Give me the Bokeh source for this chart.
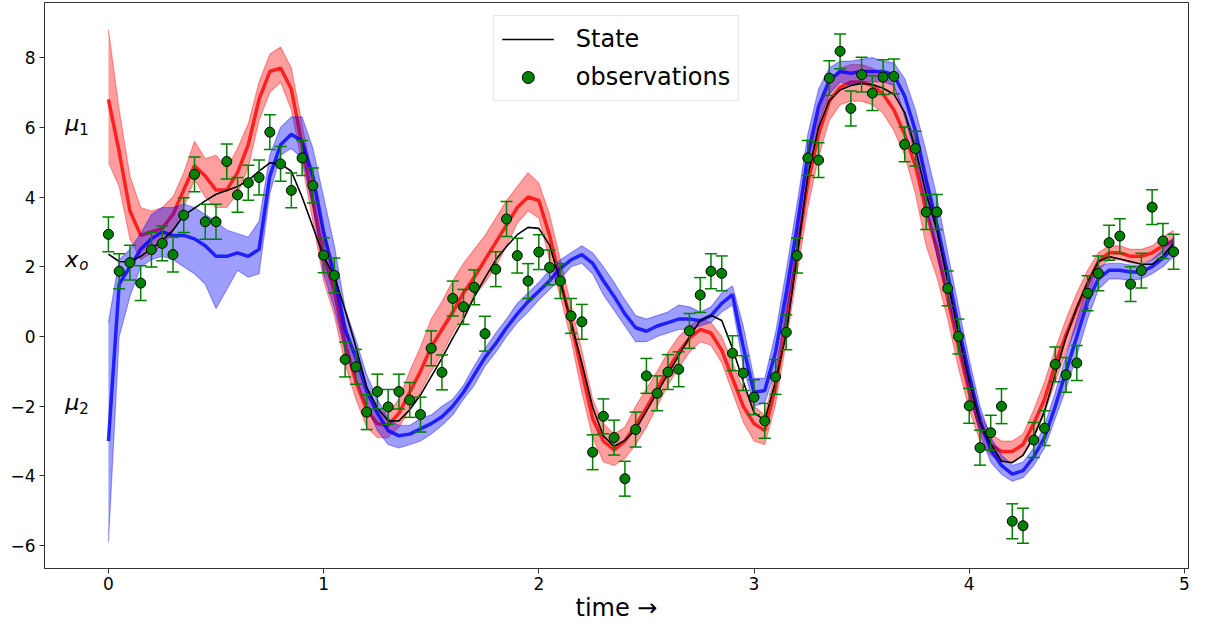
from bokeh.plotting import figure
from bokeh.models import (Range1d, FixedTicker, Legend, LegendItem, ColumnDataSource)
from bokeh.core.properties import value
from bokeh.embed import file_html
from bokeh.resources import INLINE

# ---------------- data ----------------
time = [0.00, 0.05, 0.10, 0.15, 0.20, 0.25, 0.30, 0.35, 0.40, 0.45,
        0.50, 0.55, 0.60, 0.65, 0.70, 0.75, 0.80, 0.85, 0.90, 0.95,
        1.00, 1.05, 1.10, 1.15, 1.20, 1.25, 1.30, 1.35, 1.40, 1.45,
        1.50, 1.55, 1.60, 1.65, 1.70, 1.75, 1.80, 1.85, 1.90, 1.95,
        2.00, 2.05, 2.10, 2.15, 2.20, 2.25, 2.30, 2.35, 2.40, 2.45,
        2.50, 2.55, 2.60, 2.65, 2.70, 2.75, 2.80, 2.85, 2.90, 2.95,
        3.00, 3.05, 3.10, 3.15, 3.20, 3.25, 3.30, 3.35, 3.40, 3.45,
        3.50, 3.55, 3.60, 3.65, 3.70, 3.75, 3.80, 3.85, 3.90, 3.95,
        4.00, 4.05, 4.10, 4.15, 4.20, 4.25, 4.30, 4.35, 4.40, 4.45,
        4.50, 4.55, 4.60, 4.65, 4.70, 4.75, 4.80, 4.85, 4.90, 4.95]

observations = [2.93, 1.87, 2.12, 1.53, 2.49, 2.67, 2.35, 3.48, 4.65, 3.29,
                3.29, 5.02, 4.06, 4.41, 4.56, 5.86, 4.95, 4.19, 5.12, 4.33,
                2.33, 1.75, -0.66, -0.87, -2.17, -1.58, -2.02, -1.58, -1.82, -2.24,
                -0.34, -1.03, 1.09, 0.85, 1.41, 0.08, 1.93, 3.37, 2.32, 1.59,
                2.42, 1.98, 1.59, 0.59, 0.42, -3.32, -2.29, -2.90, -4.08, -2.67,
                -1.13, -1.63, -1.02, -0.94, 0.16, 1.19, 1.87, 1.81, -0.48, -1.05,
                -1.74, -2.42, -1.16, 0.12, 2.32, 5.12, 5.06, 7.41, 8.18, 6.54,
                7.51, 6.98, 7.44, 7.46, 5.51, 5.39, 3.57, 3.57, 1.38, 0.00,
                -1.99, -3.19, -2.76, -2.00, -5.30, -5.43, -2.97, -2.63, -0.80, -1.10,
                -0.76, 1.24, 1.81, 2.69, 2.88, 1.50, 1.89, 3.71, 2.74, 2.43]
obs_error = 0.5

state = [2.36, 2.15, 2.14, 2.30, 2.52, 2.75, 3.05, 3.47, 3.68, 3.89,
         4.08, 4.19, 4.30, 4.48, 4.74, 4.98, 4.95, 4.74, 4.00, 3.15,
         2.30, 1.72, 0.75, -0.30, -1.45, -2.05, -2.42, -2.42, -2.10, -1.68,
         -1.15, -0.62, -0.05, 0.50, 1.14, 1.68, 2.20, 2.58, 2.92, 3.13,
         3.10, 2.62, 1.57, 0.40, -0.76, -2.03, -2.85, -3.15, -2.98, -2.67,
         -2.14, -1.61, -1.08, -0.55, -0.02, 0.46, 0.61, 0.46, -0.34, -1.29,
         -2.19, -2.40, -1.29, 0.08, 2.30, 4.60, 6.00, 6.77, 7.07, 7.20,
         7.26, 7.23, 7.12, 6.95, 6.43, 5.38, 4.10, 3.05, 1.57, 0.08,
         -1.29, -2.46, -3.09, -3.57, -3.62, -3.41, -2.88, -2.14, -1.08, -0.02,
         0.83, 1.57, 2.15, 2.29, 2.22, 2.15, 2.07, 2.07, 2.31, 2.68]

# ensemble started from mu_1 (red): lower edge, centre, upper edge
red_low = [5.0, 4.3, 2.8, 2.2, 2.4, 2.6, 3.0, 3.7, 4.5, 4.0,
           3.7, 3.7, 4.1, 4.85, 6.2, 7.0, 7.3, 6.5, 4.95, 3.3,
           1.6, 0.6, -0.8, -1.8, -2.6, -2.9, -2.9, -2.6, -2.1, -1.6,
           -1.0, -0.5, 0.1, 0.6, 1.15, 1.55, 2.0, 2.6, 3.25, 3.6,
           3.4, 2.2, 1.15, -0.1, -1.6, -2.9, -3.6, -3.7, -3.5, -3.1,
           -2.6, -2.0, -1.4, -0.9, -0.45, -0.15, -0.25, -0.75, -1.6, -2.45,
           -3.0, -3.1, -1.95, -0.15, 1.8, 3.7, 5.15, 6.2, 6.65, 6.75,
           6.75, 6.65, 6.4, 5.9, 5.2, 4.1, 2.6, 1.7, 0.5, -0.9,
           -2.1, -3.0, -3.4, -3.6, -3.6, -3.4, -2.9, -2.2, -1.3, -0.45,
           0.3, 1.15, 1.9, 2.2, 2.2, 2.1, 2.1, 2.2, 2.4, 2.5]
red_mid = [6.8, 5.3, 3.6, 2.9, 3.0, 3.1, 3.5, 4.2, 4.9, 4.6,
           4.2, 4.2, 4.7, 5.5, 6.8, 7.6, 7.7, 7.1, 5.5, 3.9,
           2.3, 1.3, -0.2, -1.3, -2.1, -2.5, -2.55, -2.2, -1.6, -1.0,
           -0.3, 0.2, 0.7, 1.25, 1.7, 2.2, 2.7, 3.2, 3.7, 4.0,
           3.9, 2.9, 1.6, 0.4, -1.0, -2.35, -3.0, -3.25, -3.0, -2.55,
           -2.05, -1.5, -0.95, -0.45, -0.05, 0.2, 0.1, -0.4, -1.2, -2.0,
           -2.5, -2.7, -1.45, 0.4, 2.4, 4.4, 5.8, 6.75, 7.15, 7.3,
           7.3, 7.2, 6.95, 6.5, 5.8, 4.9, 3.6, 2.5, 1.1, -0.3,
           -1.6, -2.6, -3.1, -3.3, -3.3, -3.1, -2.5, -1.8, -0.8, 0.05,
           0.8, 1.5, 2.15, 2.4, 2.4, 2.3, 2.3, 2.4, 2.6, 2.75]
red_high = [8.8, 6.5, 4.6, 3.7, 3.6, 3.7, 4.0, 4.7, 5.6, 5.1,
            5.2, 4.8, 5.4, 6.1, 7.3, 8.1, 8.3, 7.7, 6.1, 4.5,
            3.0, 2.0, 0.4, -0.8, -1.7, -2.1, -2.2, -1.8, -1.0, -0.3,
            0.5, 1.0, 1.6, 2.1, 2.5, 2.9, 3.4, 3.9, 4.3, 4.7,
            4.4, 3.5, 2.2, 0.9, -0.4, -1.8, -2.5, -2.8, -2.6, -2.0,
            -1.5, -1.0, -0.45, 0.0, 0.3, 0.5, 0.4, 0.0, -0.75, -1.5,
            -2.0, -2.25, -1.0, 0.9, 3.0, 5.1, 6.4, 7.3, 7.7, 7.8,
            7.8, 7.7, 7.5, 7.2, 6.4, 5.7, 4.5, 3.3, 1.8, 0.3,
            -1.1, -2.2, -2.8, -3.0, -3.0, -2.8, -2.1, -1.3, -0.35, 0.5,
            1.25, 1.9, 2.4, 2.6, 2.6, 2.5, 2.5, 2.6, 2.85, 3.05]

# ensemble started from mu_2 (blue): lower edge, centre, upper edge
blue_low = [-5.9, 0.0, 1.15, 2.0, 2.2, 2.3, 2.2, 2.0, 1.8, 1.5,
            0.8, 1.35, 1.9, 1.7, 1.8, 4.1, 5.2, 5.4, 5.1, 3.7,
            1.8, 0.8, -0.45, -1.2, -2.0, -2.7, -3.1, -3.2, -3.1, -3.0,
            -2.8, -2.55, -2.25, -1.8, -1.4, -0.85, -0.45, 0.0, 0.4, 0.7,
            1.05, 1.35, 1.65, 2.0, 2.1, 1.8, 1.2, 0.75, 0.3, -0.15,
            -0.15, 0.0, 0.1, 0.2, 0.2, 0.3, 0.4, 0.7, 0.9, -0.85,
            -2.0, -1.9, -1.0, 0.6, 2.5, 4.6, 6.1, 6.95, 7.3, 7.2,
            7.3, 7.3, 7.3, 7.2, 6.3, 5.2, 3.7, 2.3, 1.15, -0.25,
            -1.6, -2.8, -3.6, -3.95, -4.15, -4.05, -3.7, -3.2, -2.35, -1.5,
            -0.55, 0.5, 1.35, 1.65, 1.65, 1.6, 1.65, 1.8, 2.0, 2.3]
blue_mid = [-3.0, 1.5, 2.0, 2.5, 2.8, 3.0, 2.9, 2.9, 2.8, 2.6,
            2.3, 2.3, 2.4, 2.3, 2.5, 4.6, 5.5, 5.8, 5.6, 4.6,
            3.0, 1.7, 0.2, -0.6, -1.55, -2.2, -2.7, -2.85, -2.8, -2.65,
            -2.5, -2.3, -2.0, -1.6, -1.1, -0.6, -0.2, 0.25, 0.65, 1.0,
            1.3, 1.6, 1.95, 2.2, 2.35, 2.1, 1.6, 1.15, 0.65, 0.25,
            0.15, 0.3, 0.4, 0.5, 0.5, 0.45, 0.6, 0.95, 1.2, -0.3,
            -1.6, -1.55, -0.45, 1.25, 3.15, 5.2, 6.6, 7.35, 7.6, 7.55,
            7.6, 7.6, 7.6, 7.5, 6.9, 5.9, 4.5, 3.2, 1.8, 0.3,
            -1.1, -2.4, -3.25, -3.7, -3.95, -3.85, -3.45, -2.9, -2.0, -1.0,
            0.0, 1.0, 1.65, 1.9, 1.9, 1.85, 1.85, 2.0, 2.25, 2.55]
blue_high = [0.4, 2.2, 2.5, 2.95, 3.5, 3.7, 3.7, 3.8, 3.7, 3.5,
             3.3, 3.05, 2.95, 2.85, 3.3, 5.2, 6.0, 6.3, 6.3, 5.4,
             4.0, 2.6, 0.8, -0.1, -1.1, -1.8, -2.35, -2.55, -2.55, -2.35,
             -2.25, -2.0, -1.8, -1.4, -0.85, -0.35, 0.1, 0.5, 0.95, 1.25,
             1.55, 1.9, 2.2, 2.4, 2.6, 2.4, 2.0, 1.55, 1.05, 0.6,
             0.5, 0.6, 0.7, 0.9, 0.85, 0.7, 0.85, 1.25, 1.45, 0.3,
             -1.2, -1.2, 0.1, 1.9, 3.8, 5.8, 7.1, 7.7, 7.9, 7.9,
             7.95, 8.0, 7.9, 7.85, 7.4, 6.5, 5.3, 4.0, 2.4, 0.85,
             -0.65, -2.0, -2.9, -3.4, -3.7, -3.6, -3.2, -2.55, -1.6, -0.55,
             0.5, 1.45, 2.0, 2.1, 2.1, 2.05, 2.05, 2.2, 2.5, 2.85]

x_ticks = [0, 1, 2, 3, 4, 5]
y_ticks = [-6, -4, -2, 0, 2, 4, 6, 8]
y_tick_labels = {-6: "\u22126", -4: "\u22124", -2: "\u22122", 0: "0", 2: "2", 4: "4", 6: "6", 8: "8"}

side_label_main = ["\u03bc", "x", "\u03bc"]
side_label_sub = ["1", "o", "2"]
side_label_sub_style = ["normal", "italic", "normal"]
side_label_y = [6.1, 2.2, -1.9]
side_label_x = [-0.2, -0.2, -0.2]

FONT = "DejaVu Sans"

# ---------------- figure ----------------
p = figure(width=1205, height=627, output_backend="svg", toolbar_location=None,
           x_range=Range1d(-0.297, 5.019), y_range=Range1d(-6.655, 9.58),
           min_border_left=44, min_border_right=17, min_border_top=2, min_border_bottom=59)
p.background_fill_color = "white"
p.border_fill_color = "white"
p.outline_line_color = "#333333"
p.outline_line_width = 1
p.xgrid.visible = False
p.ygrid.visible = False

for ax in (p.xaxis[0], p.yaxis[0]):
    ax.axis_line_color = "#333333"
    ax.major_tick_line_color = "#333333"
    ax.major_tick_in = 0
    ax.major_tick_out = 5
    ax.minor_tick_line_color = None
    ax.major_label_text_font = FONT
    ax.major_label_text_font_size = "17px"
    ax.major_label_text_color = "black"

p.xaxis.ticker = FixedTicker(ticks=x_ticks)
p.yaxis.ticker = FixedTicker(ticks=y_ticks)
p.yaxis.major_label_overrides = y_tick_labels
p.xaxis.axis_label = "time \u2192"
p.xaxis.axis_label_text_font = FONT
p.xaxis.axis_label_text_font_style = "normal"
p.xaxis.axis_label_text_font_size = "24px"
p.xaxis.axis_label_text_color = "black"
p.xaxis.major_label_standoff = 3
p.xaxis.axis_label_standoff = 1
p.yaxis.major_label_standoff = 4

# ensembles
ens = ColumnDataSource(dict(t=time, rl=red_low, rm=red_mid, rh=red_high,
                            bl=blue_low, bm=blue_mid, bh=blue_high))
for col, lo, mid, hi in (("red", "rl", "rm", "rh"), ("blue", "bl", "bm", "bh")):
    p.varea(x="t", y1=lo, y2=hi, source=ens, fill_color=col, fill_alpha=0.38)
    p.line(x="t", y=lo, source=ens, line_color=col, line_alpha=0.35, line_width=1.2)
    p.line(x="t", y=hi, source=ens, line_color=col, line_alpha=0.35, line_width=1.2)
    p.line(x="t", y=mid, source=ens, line_color=col, line_alpha=0.8, line_width=3.5)

# state
state_r = p.line(time, state, line_color="black", line_width=1.6)

# observations with error bars
obs_src = ColumnDataSource(dict(t=time, y=observations,
                                lo=[v - obs_error for v in observations],
                                hi=[v + obs_error for v in observations]))
p.segment(x0="t", y0="lo", x1="t", y1="hi", source=obs_src, line_color="green", line_width=1.5)
p.scatter(x="t", y="lo", source=obs_src, marker="dash", size=12, line_color="green", line_width=1.5)
p.scatter(x="t", y="hi", source=obs_src, marker="dash", size=12, line_color="green", line_width=1.5)
obs_r = p.scatter(x="t", y="y", source=obs_src, marker="circle", size=10,
                  fill_color="green", line_color="black", line_width=1)

# side labels (symbol + subscript)
lab_src = ColumnDataSource(dict(x=side_label_x, y=side_label_y, main=side_label_main,
                                sub=side_label_sub, sub_style=side_label_sub_style))
p.text(x="x", y="y", text="main", source=lab_src, text_font=value(FONT),
       text_font_style="italic", text_font_size="22px", text_baseline="middle",
       text_align="left", text_color="black")
p.text(x="x", y="y", text="sub", source=lab_src, text_font=value(FONT),
       text_font_style="sub_style", text_font_size="15px", text_baseline="middle",
       text_align="left", text_color="black", x_offset=14, y_offset=5)

legend = Legend(items=[LegendItem(label="State", renderers=[state_r]),
                       LegendItem(label="observations", renderers=[obs_r])],
                location="top_center")
legend.label_text_font = FONT
legend.label_text_font_size = "24px"
legend.label_text_color = "black"
legend.glyph_width = 52
legend.glyph_height = 30
legend.spacing = 8
legend.padding = 8
legend.margin = 13
legend.label_standoff = 22
legend.border_line_color = "#cccccc"
legend.border_line_width = 1
legend.background_fill_alpha = 0.85
p.add_layout(legend)

open("out.html", "w").write(file_html(p, INLINE))
